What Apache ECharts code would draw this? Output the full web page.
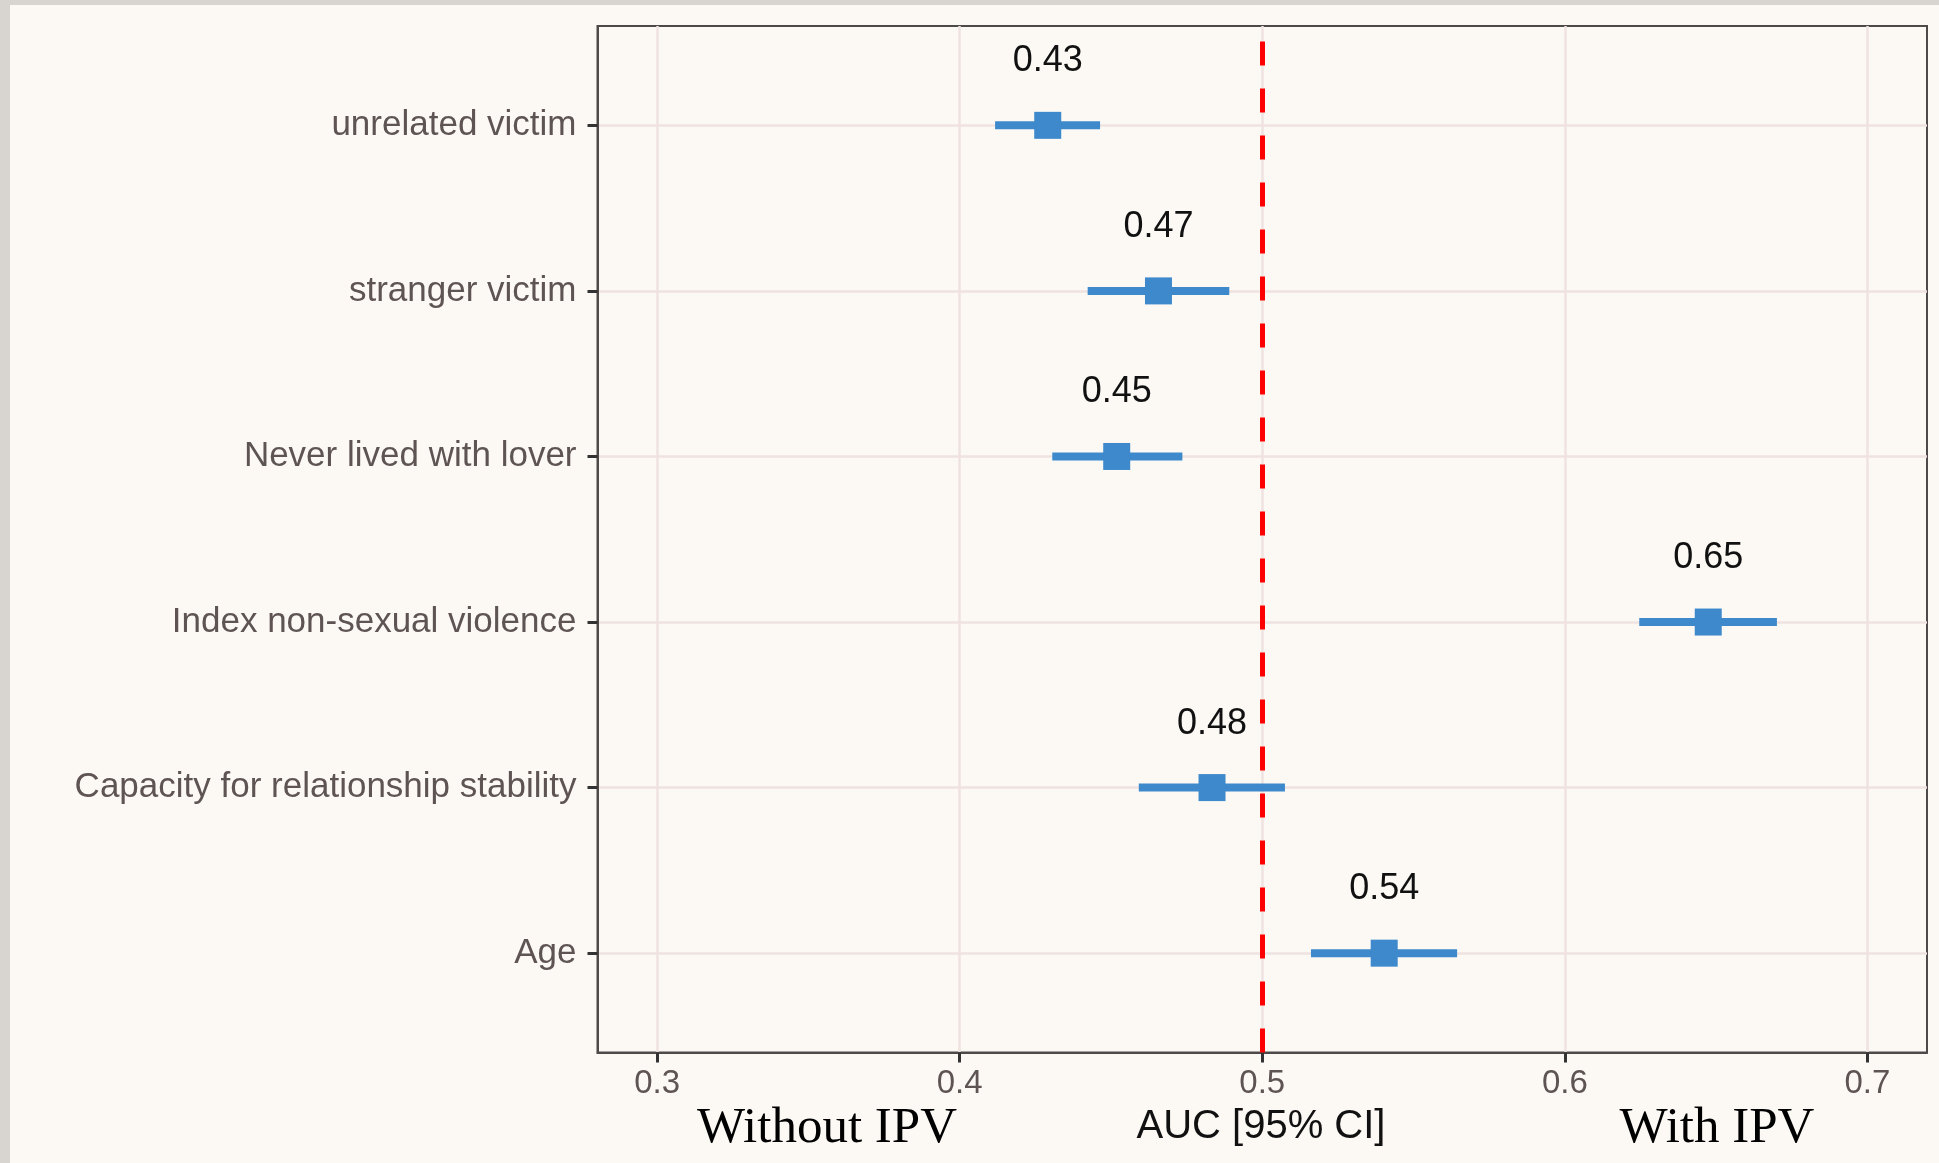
<!DOCTYPE html>
<html>
<head>
<meta charset="utf-8">
<script src="https://cdn.jsdelivr.net/npm/echarts@6/dist/echarts.min.js"></script>
<style>
html,body{margin:0;padding:0;background:#fcf9f5;}
#chart{width:1939px;height:1163px;}
</style>
</head>
<body>
<div id="chart"></div>
<script>
// Categories, top to bottom
var categories = ["unrelated victim", "stranger victim", "Never lived with lover", "Index non-sexual violence", "Capacity for relationship stability", "Age"];
// AUC point estimates
var auc = [0.4291, 0.4657, 0.4519, 0.6474, 0.4834, 0.5403];
// 95% CI lower / upper bounds
var ciLow = [0.4117, 0.4423, 0.4306, 0.6246, 0.4592, 0.5161];
var ciHigh = [0.4464, 0.4891, 0.4736, 0.6701, 0.5075, 0.5644];
// Printed labels
var aucLabels = ["0.43", "0.47", "0.45", "0.65", "0.48", "0.54"];
// x tick values
var xTicks = [0.3, 0.4, 0.5, 0.6, 0.7];
var refLine = 0.5;

var n = categories.length;
var yPos = categories.map(function (c, i) { return n - i; });
var yTicks = yPos.slice().reverse();

var pointData = auc.map(function (v, i) { return [v, yPos[i], aucLabels[i]]; });
var ciData = ciLow.map(function (v, i) { return [v, ciHigh[i], yPos[i]]; });

var blue = '#3d89cb';
var gridCol = '#efe2df';
var labCol = '#5e5454';

var chart = echarts.init(document.getElementById('chart'), null, {renderer: 'canvas'});
chart.setOption({
  backgroundColor: '#fcf9f5',
  animation: false,
  grid: {left: 597.5, right: 12, top: 26, bottom: 110.5, show: true, borderColor: '#4f4a4a', borderWidth: 2, backgroundColor: 'transparent'},
  xAxis: {
    type: 'value', min: 0.2803, max: 0.7197,
    axisLine: {show: true, onZero: false, lineStyle: {color: '#4f4a4a', width: 2}},
    axisTick: {show: true, length: 10, customValues: xTicks, lineStyle: {color: '#333', width: 3}},
    axisLabel: {customValues: xTicks, margin: 15, color: labCol, fontSize: 33, fontFamily: 'Liberation Sans, Arial, sans-serif',
      formatter: function (v) { return String(Math.round(v * 10) / 10); }},
    splitLine: {show: true, lineStyle: {color: gridCol, width: 2.5}}
  },
  yAxis: {
    type: 'value', min: 0.4, max: 6.6,
    axisLine: {show: true, onZero: false, lineStyle: {color: '#4f4a4a', width: 2}},
    axisTick: {show: true, length: 10, customValues: yTicks, lineStyle: {color: '#333', width: 3}},
    axisLabel: {customValues: yTicks, margin: 21, color: labCol, fontSize: 35, padding: [5, 0, 0, 0], fontFamily: 'Liberation Sans, Arial, sans-serif',
      formatter: function (v) { var i = n - Math.round(v); return categories[i] || ''; }},
    splitLine: {show: true, lineStyle: {color: gridCol, width: 2.5}}
  },
  series: [
    {
      type: 'custom',
      z: 3,
      data: ciData,
      encode: {x: [0, 1], y: 2},
      renderItem: function (params, api) {
        var y = api.value(2);
        var p1 = api.coord([api.value(0), y]);
        var p2 = api.coord([api.value(1), y]);
        return {type: 'line', shape: {x1: p1[0], y1: p1[1], x2: p2[0], y2: p2[1]}, style: {stroke: blue, lineWidth: 8}};
      },
      markLine: {
        silent: true, symbol: ['none', 'none'], z: 2,
        label: {show: false},
        lineStyle: {color: '#ff0000', width: 5, type: [24, 23]},
        data: [{xAxis: refLine}]
      }
    },
    {
      type: 'scatter',
      z: 4,
      data: pointData,
      symbol: 'rect',
      symbolSize: 27,
      itemStyle: {color: blue, opacity: 1},
      label: {
        show: true, position: 'inside', offset: [0, -64],
        color: '#111', fontSize: 36, fontFamily: 'Liberation Sans, Arial, sans-serif',
        formatter: function (p) { return p.data[2]; }
      }
    }
  ],
  graphic: [
    {type: 'rect', left: 0, top: 0, shape: {width: 1939, height: 5}, style: {fill: '#d8d4d0'}},
    {type: 'rect', left: 0, top: 0, shape: {width: 10, height: 1163}, style: {fill: '#d8d4d0'}},
    {type: 'text', x: 827, y: 1129, style: {text: 'Without IPV', fill: '#000', font: '51px "Liberation Serif", "Times New Roman", serif', textAlign: 'center', textVerticalAlign: 'middle'}},
    {type: 'text', x: 1261, y: 1127, style: {text: 'AUC [95% CI]', fill: '#111', font: '40px "Liberation Sans", Arial, sans-serif', textAlign: 'center', textVerticalAlign: 'middle'}},
    {type: 'text', x: 1717, y: 1129, style: {text: 'With IPV', fill: '#000', font: '51px "Liberation Serif", "Times New Roman", serif', textAlign: 'center', textVerticalAlign: 'middle'}}
  ]
});
</script>
</body>
</html>
